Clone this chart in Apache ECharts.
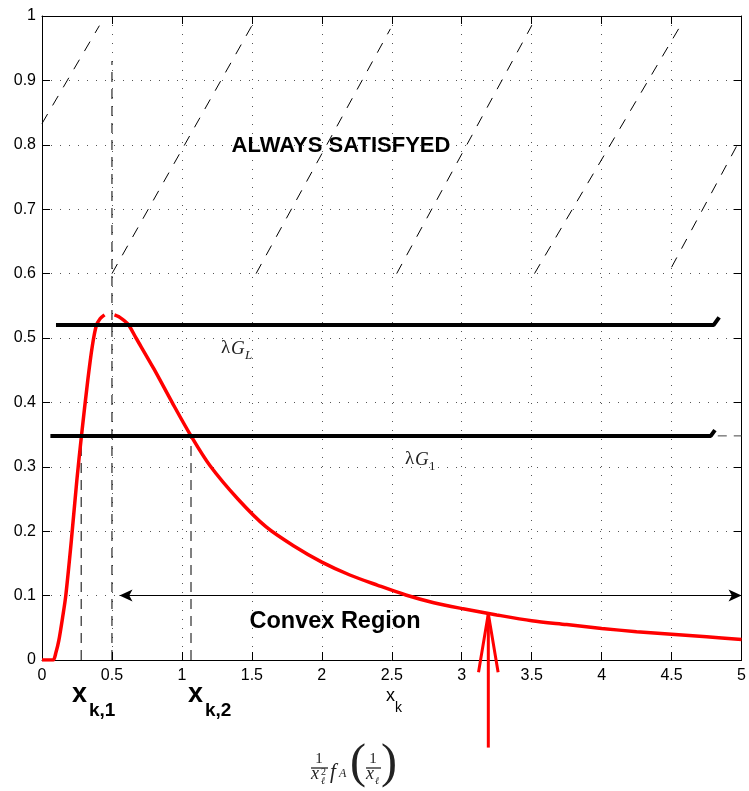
<!DOCTYPE html>
<html lang="en">
  <head>
    <meta charset="UTF-8" />
    <title>Convex Region</title>
    <script src="https://cdn.jsdelivr.net/npm/echarts@6/dist/echarts.min.js"></script>
    <style>
      html, body { margin: 0; padding: 0; background: #fff; }
      #chart { width: 749px; height: 791px; }
    </style>
  </head>
  <body>
    <div id="chart"></div>
    <script>
      // red curve (1/x^2) fA(1/x), null = gap at the peak
      const curveX = [0, 0.05, 0.08, 0.1, 0.12, 0.15, 0.17, 0.21, 0.249, 0.282,
        0.327, 0.36, 0.388, 0.415, 0.447, 0.48, 0.518, 0.55, 0.613, 0.672,
        0.8, 0.93, 1.065, 1.2, 1.4, 1.6, 1.8, 2, 2.2, 2.4,
        2.6, 2.8, 3, 3.25, 3.5, 3.75, 4, 4.25, 4.5, 4.75, 5]
      const curveY = [0, 0, 0, 0.012, 0.03, 0.07, 0.1, 0.186, 0.279, 0.348,
        0.434, 0.488, 0.519, 0.53, 0.536, null, 0.536, 0.533, 0.522, 0.5,
        0.452, 0.4, 0.348, 0.302, 0.25, 0.207, 0.177, 0.152, 0.132, 0.116,
        0.101, 0.089, 0.08, 0.07, 0.061, 0.055, 0.049, 0.044, 0.04, 0.036, 0.032]

      // thick black levels  λG_L  and  λG_1
      const levelLX = [0.1, 4.8, 4.84]
      const levelLY = [0.52, 0.52, 0.532]
      const level1X = [0.06, 4.78, 4.81]
      const level1Y = [0.348, 0.348, 0.357]
      const level1Tail = [[4.83, 0.348], [5, 0.348]]

      // vertical dashed markers
      const markX = [0.28, 0.5, 1.065]
      const markTop = [0.348, 0.93, 0.348]

      // hatching of the "always satisfied" area
      const hatch = [
        [[0, 0.833], [0.41, 0.985]],
        [[0.5, 0.6], [1.5, 0.985]],
        [[1.53, 0.6], [2.49, 0.98]],
        [[2.535, 0.6], [3.5, 0.985]],
        [[3.52, 0.6], [4.55, 0.98]],
        [[4.5, 0.61], [4.97, 0.8]]
      ]

      // convex region arrow and the red pointer
      const convexArrow = [[0.554, 0.1], [5, 0.1]]
      const pointerShaft = [[3.19, 0.072], [3.19, -0.136]]
      const pointerHead = [[3.12, -0.019], [3.19, 0.072], [3.26, -0.019]]

      const font = '"Liberation Sans", Arial, sans-serif'
      const serif = '"Liberation Serif", "DejaVu Serif", serif'

      const myChart = echarts.init(document.getElementById('chart'))

      const pairs = (xs, ys) => xs.map((x, i) => [x, ys[i]])

      const series = [
        {
          type: 'line',
          data: pairs(curveX, curveY),
          smooth: 0.3,
          connectNulls: false,
          showSymbol: false,
          lineStyle: { color: '#ff0000', width: 3.5 },
          z: 5
        },
        {
          type: 'line',
          data: pairs(levelLX, levelLY),
          showSymbol: false,
          lineStyle: { color: '#000', width: 4 },
          z: 6
        },
        {
          type: 'line',
          data: pairs(level1X, level1Y),
          showSymbol: false,
          lineStyle: { color: '#000', width: 4 },
          z: 6
        },
        {
          type: 'line',
          data: level1Tail,
          showSymbol: false,
          lineStyle: { color: '#444', width: 1, type: [9, 7] }
        },
        {
          type: 'line',
          data: convexArrow,
          showSymbol: false,
          lineStyle: { width: 0 },
          markLine: {
            silent: true,
            symbol: ['arrow', 'arrow'],
            symbolSize: [9, 13],
            label: { show: false },
            lineStyle: { color: '#000', width: 1, type: 'solid' },
            data: [[{ coord: convexArrow[0] }, { coord: convexArrow[1] }]]
          }
        },
        {
          type: 'line',
          data: pointerShaft,
          clip: false,
          showSymbol: false,
          lineStyle: { color: '#ff0000', width: 3 },
          z: 7
        },
        {
          type: 'line',
          data: pointerHead,
          clip: false,
          showSymbol: false,
          lineStyle: { color: '#ff0000', width: 3 },
          z: 7
        }
      ]

      markX.forEach((x, i) => {
        series.push({
          type: 'line',
          data: [[x, 0], [x, markTop[i]]],
          showSymbol: false,
          lineStyle: { color: '#000', width: 1, type: [10, 7] },
          z: 3
        })
      })

      hatch.forEach(seg => {
        series.push({
          type: 'line',
          data: seg,
          showSymbol: false,
          lineStyle: { color: '#000', width: 1, type: [11, 10] },
          z: 3
        })
      })

      const tick = { show: true, inside: true, length: 8, lineStyle: { color: '#000' } }
      const axLine = { show: true, onZero: false, lineStyle: { color: '#000', width: 1 } }
      const grid = { show: true, lineStyle: { color: '#555', width: 1, type: [1, 8] } }

      const option = {
        animation: false,
        backgroundColor: '#fff',
        grid: { left: 42, right: 3, top: 16, bottom: 131 },
        xAxis: [
          {
            type: 'value', min: 0, max: 5, interval: 0.5, position: 'bottom',
            axisLine: axLine, axisTick: tick, splitLine: grid,
            axisLabel: { fontSize: 16, fontFamily: font, color: '#000', margin: 8 }
          },
          {
            type: 'value', min: 0, max: 5, interval: 0.5, position: 'top',
            axisLine: axLine, axisTick: tick, splitLine: { show: false },
            axisLabel: { show: false }
          }
        ],
        yAxis: [
          {
            type: 'value', min: 0, max: 1, interval: 0.1, position: 'left',
            axisLine: axLine, axisTick: tick, splitLine: grid,
            axisLabel: { fontSize: 16, fontFamily: font, color: '#000', margin: 6 }
          },
          {
            type: 'value', min: 0, max: 1, interval: 0.1, position: 'right',
            axisLine: axLine, axisTick: tick, splitLine: { show: false },
            axisLabel: { show: false }
          }
        ],
        series: series,
        graphic: [
          { type: 'text', style: { text: 'ALWAYS SATISFYED', x: 341, y: 146, font: 'bold 22px ' + font, fill: '#000', align: 'center', verticalAlign: 'middle' }, z: 10 },
          { type: 'text', style: { text: 'Convex Region', x: 335, y: 622, font: 'bold 23.5px ' + font, fill: '#000', align: 'center', verticalAlign: 'middle' }, z: 10 },
          // λG_L
          { type: 'text', style: { text: 'λ', x: 221, y: 358, font: '19px ' + serif, fill: '#222', verticalAlign: 'bottom' } },
          { type: 'text', style: { text: 'G', x: 231, y: 358, font: 'italic 19px ' + serif, fill: '#222', verticalAlign: 'bottom' } },
          { type: 'text', style: { text: 'L', x: 245, y: 362, font: 'italic 13px ' + serif, fill: '#222', verticalAlign: 'bottom' } },
          // λG_1
          { type: 'text', style: { text: 'λ', x: 405, y: 469, font: '19px ' + serif, fill: '#222', verticalAlign: 'bottom' } },
          { type: 'text', style: { text: 'G', x: 415, y: 469, font: 'italic 19px ' + serif, fill: '#222', verticalAlign: 'bottom' } },
          { type: 'text', style: { text: '1', x: 429, y: 473, font: '13px ' + serif, fill: '#222', verticalAlign: 'bottom' } },
          // axis name x_k
          { type: 'text', style: { text: 'x', x: 386, y: 705, font: '18px ' + font, fill: '#000', verticalAlign: 'bottom' } },
          { type: 'text', style: { text: 'k', x: 395, y: 715, font: '14px ' + font, fill: '#000', verticalAlign: 'bottom' } },
          // x_{k,1}, x_{k,2}
          { type: 'text', style: { text: 'x', x: 72, y: 708, font: 'bold 27px ' + font, fill: '#000', verticalAlign: 'bottom' } },
          { type: 'text', style: { text: 'k,1', x: 89, y: 720, font: 'bold 19px ' + font, fill: '#000', verticalAlign: 'bottom' } },
          { type: 'text', style: { text: 'x', x: 188, y: 708, font: 'bold 27px ' + font, fill: '#000', verticalAlign: 'bottom' } },
          { type: 'text', style: { text: 'k,2', x: 205, y: 720, font: 'bold 19px ' + font, fill: '#000', verticalAlign: 'bottom' } },
          // formula  1/x_l^2 f_A (1/x_l)
          { type: 'text', style: { text: '1', x: 319, y: 767, font: '15px ' + serif, fill: '#222', align: 'center', verticalAlign: 'bottom' } },
          { type: 'line', shape: { x1: 311, y1: 768, x2: 328, y2: 768 }, style: { stroke: '#222', lineWidth: 1.3 } },
          { type: 'text', style: { text: 'x', x: 311, y: 783, font: 'italic 18px ' + serif, fill: '#222', verticalAlign: 'bottom' } },
          { type: 'text', style: { text: '2', x: 321, y: 777, font: '10px ' + serif, fill: '#222', verticalAlign: 'bottom' } },
          { type: 'text', style: { text: 'ℓ', x: 321, y: 786, font: 'italic 10px ' + serif, fill: '#222', verticalAlign: 'bottom' } },
          { type: 'text', style: { text: 'f', x: 330, y: 783, font: 'italic 21px ' + serif, fill: '#222', verticalAlign: 'bottom' } },
          { type: 'text', style: { text: 'A', x: 339, y: 780, font: 'italic 12px ' + serif, fill: '#222', verticalAlign: 'bottom' } },
          { type: 'text', style: { text: '(', x: 350, y: 788, font: '48px ' + serif, fill: '#222', verticalAlign: 'bottom' } },
          { type: 'text', style: { text: '1', x: 373, y: 767, font: '15px ' + serif, fill: '#222', align: 'center', verticalAlign: 'bottom' } },
          { type: 'line', shape: { x1: 366, y1: 768, x2: 381, y2: 768 }, style: { stroke: '#222', lineWidth: 1.3 } },
          { type: 'text', style: { text: 'x', x: 366, y: 783, font: 'italic 18px ' + serif, fill: '#222', verticalAlign: 'bottom' } },
          { type: 'text', style: { text: 'ℓ', x: 375, y: 786, font: 'italic 10px ' + serif, fill: '#222', verticalAlign: 'bottom' } },
          { type: 'text', style: { text: ')', x: 381, y: 788, font: '48px ' + serif, fill: '#222', verticalAlign: 'bottom' } }
        ]
      }

      myChart.setOption(option)
    </script>
  </body>
</html>
